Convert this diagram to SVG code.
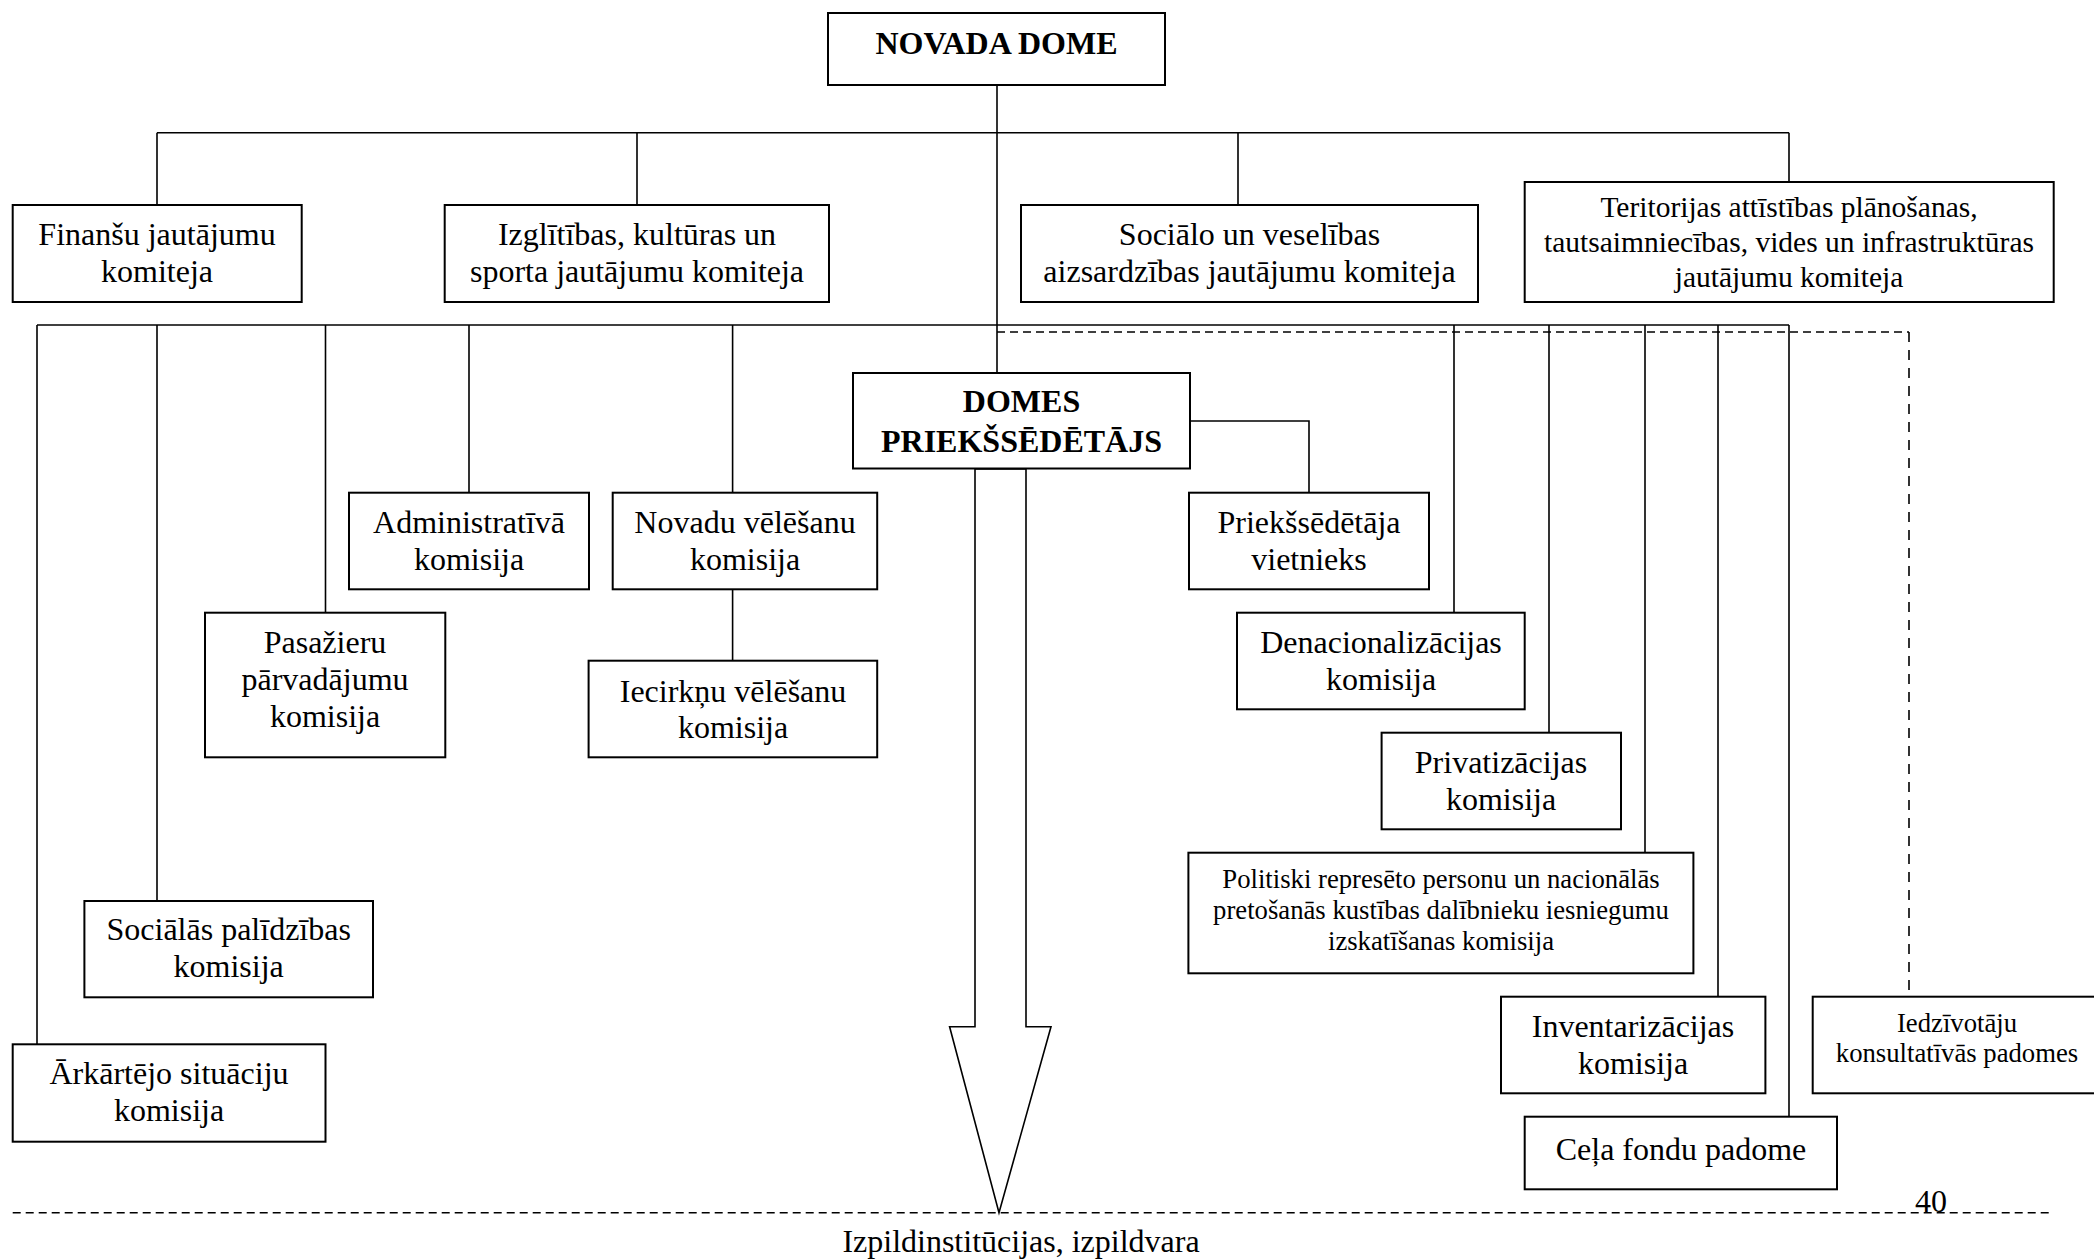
<svg xmlns="http://www.w3.org/2000/svg" width="2094" height="1260" viewBox="0 0 2094 1260">
<style>
.box{fill:#fff;stroke:#000;stroke-width:2}
.ln{fill:none;stroke:#000;stroke-width:1.6}
.dash{fill:none;stroke:#000;stroke-width:1.6;stroke-dasharray:8 5}
.vdash{fill:none;stroke:#000;stroke-width:1.6;stroke-dasharray:10 8}
text{font-family:"Liberation Serif","Times New Roman",serif;font-size:32px;fill:#000;text-anchor:middle}
.b{font-weight:bold}
.s{font-size:26.7px}
.m{font-size:29.5px}
</style>
<rect width="2094" height="1260" fill="#fff"/>
<g id="connectors">
<path class="ln" d="M997 85V373"/>
<path class="ln" d="M157 132.7H1789M157 132.7V205M637 132.7V205M1238 132.7V205M1789 132.7V182"/>
<path class="ln" d="M37 325H1789"/>
<path class="ln" d="M37 325V1044.3M157 325V901M325.5 325V612.7M469 325V492.7M732.6 325V492.7M732.6 589.3V660.7"/>
<path class="ln" d="M1454 325V612.7M1549 325V732.7M1645 325V852.7M1718 325V996.7M1789 325V1116.7"/>
<path class="ln" d="M1190 421H1309V492.7"/>
<path class="dash" d="M997 332H1909"/>
<path class="vdash" d="M1909 332V996.7"/>
<polygon points="975,469 975,1026.7 949.6,1026.7 999,1212.7 1051,1026.7 1026,1026.7 1026,469" fill="#fff" stroke="#000" stroke-width="1.6"/>
<path class="dash" d="M12.7 1212.7H2050"/>
</g>
<g id="novada-dome"><rect class="box" x="828" y="13" width="337" height="72"/><text class="b" x="996.5" y="54">NOVADA DOME</text></g>
<g id="finansu"><rect class="box" x="12.7" y="205" width="289" height="97"/><text x="157" y="244.5">Finanšu jautājumu</text><text x="157" y="281.5">komiteja</text></g>
<g id="izglitibas"><rect class="box" x="444.7" y="205" width="384.3" height="97"/><text x="637" y="244.5">Izglītības, kultūras un</text><text x="637" y="281.5">sporta jautājumu komiteja</text></g>
<g id="socialo"><rect class="box" x="1021" y="205" width="457" height="97"/><text x="1249.5" y="244.5">Sociālo un veselības</text><text x="1249.5" y="281.5">aizsardzības jautājumu komiteja</text></g>
<g id="teritorijas"><rect class="box" x="1524.7" y="182" width="529" height="120"/><text class="m" x="1789" y="217">Teritorijas attīstības plānošanas,</text><text class="m" x="1789" y="252">tautsaimniecības, vides un infrastruktūras</text><text class="m" x="1789" y="287">jautājumu komiteja</text></g>
<g id="domes-priekssedetajs"><rect class="box" x="853" y="373" width="337" height="95.5"/><text class="b" x="1021.5" y="412">DOMES</text><text class="b" x="1021.5" y="452">PRIEKŠSĒDĒTĀJS</text></g>
<g id="vietnieks"><rect class="box" x="1189" y="492.7" width="240" height="96.6"/><text x="1309" y="533">Priekšsēdētāja</text><text x="1309" y="570">vietnieks</text></g>
<g id="administrativa"><rect class="box" x="349" y="492.7" width="240" height="96.6"/><text x="469" y="533">Administratīvā</text><text x="469" y="570">komisija</text></g>
<g id="novadu-velesanu"><rect class="box" x="612.7" y="492.7" width="264.5" height="96.6"/><text x="745" y="533">Novadu vēlēšanu</text><text x="745" y="570">komisija</text></g>
<g id="pasazieru"><rect class="box" x="205" y="612.7" width="240.3" height="144.6"/><text x="325" y="653">Pasažieru</text><text x="325" y="690">pārvadājumu</text><text x="325" y="727">komisija</text></g>
<g id="iecirknu"><rect class="box" x="588.6" y="660.7" width="288.6" height="96.6"/><text x="733" y="701.5">Iecirkņu vēlēšanu</text><text x="733" y="738">komisija</text></g>
<g id="denacionalizacijas"><rect class="box" x="1237" y="612.7" width="287.7" height="96.6"/><text x="1381" y="653">Denacionalizācijas</text><text x="1381" y="690">komisija</text></g>
<g id="privatizacijas"><rect class="box" x="1381.6" y="732.7" width="239.4" height="96.6"/><text x="1501" y="773">Privatizācijas</text><text x="1501" y="810">komisija</text></g>
<g id="politiski"><rect class="box" x="1188.4" y="852.7" width="505" height="120.6"/><text class="s" x="1441" y="888">Politiski represēto personu un nacionālās</text><text class="s" x="1441" y="919">pretošanās kustības dalībnieku iesniegumu</text><text class="s" x="1441" y="950">izskatīšanas komisija</text></g>
<g id="inventarizacijas"><rect class="box" x="1501" y="996.7" width="264.4" height="96.6"/><text x="1633" y="1037">Inventarizācijas</text><text x="1633" y="1074">komisija</text></g>
<g id="iedzivotaju"><rect class="box" x="1812.7" y="996.7" width="288" height="96.6"/><text class="s" x="1957" y="1032">Iedzīvotāju</text><text class="s" x="1957" y="1062">konsultatīvās padomes</text></g>
<g id="cela-fondu"><rect class="box" x="1524.7" y="1116.7" width="312.3" height="72.6"/><text x="1681" y="1160">Ceļa fondu padome</text></g>
<g id="socialas-palidzibas"><rect class="box" x="84.4" y="901" width="288.6" height="96.3"/><text x="228.7" y="940">Sociālās palīdzības</text><text x="228.7" y="977">komisija</text></g>
<g id="arkartejo"><rect class="box" x="12.7" y="1044.3" width="312.8" height="97.4"/><text x="169" y="1084">Ārkārtējo situāciju</text><text x="169" y="1121">komisija</text></g>
<g id="labels"><text x="1021" y="1251.5">Izpildinstitūcijas, izpildvara</text><text x="1931" y="1212">40</text></g>
</svg>
